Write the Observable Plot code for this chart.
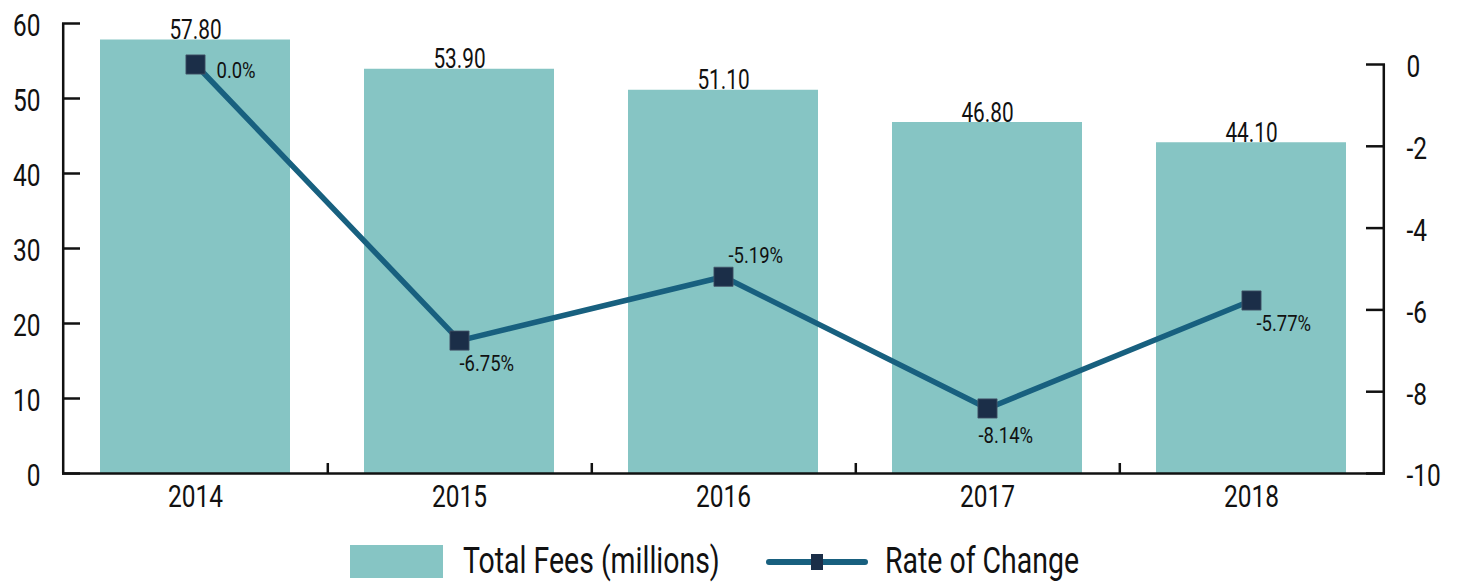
<!DOCTYPE html>
<html>
<head>
<meta charset="utf-8">
<script src="https://cdn.jsdelivr.net/npm/d3@7"></script>
<script src="https://cdn.jsdelivr.net/npm/@observablehq/plot@0.6"></script>
<style>
  html, body { margin: 0; padding: 0; background: #fff; }
  #wrap { position: relative; width: 1457px; height: 583px; font-family: Roboto, "Liberation Sans", sans-serif; color: #111; }
  #chart { position: absolute; left: 0; top: 0; }
  .leg { position: absolute; }
  .legtext { position: absolute; font-size: 36px; line-height: 36px; white-space: nowrap; transform: scaleX(0.79); transform-origin: left center; }
</style>
</head>
<body>
<div id="wrap">
  <div id="chart"></div>
  <div class="leg" style="left:350px;top:545px;width:93px;height:33px;background:#86c5c4;"></div>
  <div class="legtext" style="left:463px;top:543px;">Total Fees (millions)</div>
  <svg class="leg" style="left:764px;top:552px;" width="106" height="20">
    <line x1="5" y1="10" x2="101" y2="10" stroke="#18607f" stroke-width="6" stroke-linecap="round"></line>
    <rect x="47" y="2" width="12" height="16" fill="#1b2e48"></rect>
  </svg>
  <div class="legtext" style="left:885px;top:543px;">Rate of Change</div>
</div>
<script>
// ---- data ----
const years = ["2014", "2015", "2016", "2017", "2018"];
const fees = [57.80, 53.90, 51.10, 46.80, 44.10];
const rateValues = [0.0, -6.75, -5.19, -8.41, -5.77];
const rateLabels = ["0.0%", "-6.75%", "-5.19%", "-8.14%", "-5.77%"];
const leftTicks = [0, 10, 20, 30, 40, 50, 60];
const rightTicks = [0, -2, -4, -6, -8, -10];

// ---- layout ----
const W = 1457, H = 525, mL = 62, mR = 72, mT = 23, mB = 52;
const innerW = W - mL - mR;
const innerH = H - mT - mB;
const step = innerW / years.length;
// right axis: [-10, 0] occupies from bottom up to y=64 px (in left-scale units)
const rightTopPx = 64;
const k = ((H - mB) - rightTopPx) / 10 / (innerH / 60);
const conv = r => (r + 10) * k;

const font = 'Roboto, "Liberation Sans", sans-serif';
const barColor = "#86c5c4", lineColor = "#18607f", markColor = "#1b2e48";

const rows = years.map((y, i) => ({year: y, fee: fees[i], rate: rateValues[i], rateY: conv(rateValues[i]), label: rateLabels[i], i}));

// label placement (style)
const place = [
  {dx: 21, dy: 6},
  {dx: 0, dy: 23},
  {dx: 5, dy: -21},
  {dx: -9, dy: 27},
  {dx: 5, dy: 23}
];

const chart = Plot.plot({
  width: W, height: H,
  marginLeft: mL, marginRight: mR, marginTop: mT, marginBottom: mB,
  style: {fontFamily: font, color: "#111", background: "transparent"},
  x: {type: "band", domain: years, paddingInner: 0.28, paddingOuter: 0.14, axis: null},
  y: {domain: [0, 60], axis: null},
  marks: [
    Plot.barY(rows, {x: "year", y: "fee", fill: barColor}),
    Plot.text(rows, {x: "year", y: "fee", text: d => d.fee.toFixed(2), lineAnchor: "bottom", dy: -1, fontSize: 27, fill: "#111"}),
    // line & markers
    Plot.line(rows, {x: "year", y: "rateY", stroke: lineColor, strokeWidth: 5.5}),
    Plot.dot(rows, {x: "year", y: "rateY", symbol: "square", r: 10.8, fill: markColor, stroke: "#46566a", strokeWidth: 0.8}),
    ...rows.map((d, i) => Plot.text([d], {x: "year", y: "rateY", text: "label", textAnchor: "start", dx: place[i].dx, dy: place[i].dy, fontSize: 22, fill: "#111"})),
    // axis lines
    Plot.ruleY([0], {stroke: "#111", strokeWidth: 2.5}),
    Plot.ruleX([years[0]], {dx: -step / 2, y1: 0, y2: 60, stroke: "#111", strokeWidth: 2.5}),
    Plot.ruleX([years[years.length - 1]], {dx: step / 2, y1: conv(-10), y2: conv(0), stroke: "#111", strokeWidth: 2.5}),
    // left ticks (inward)
    Plot.ruleY(leftTicks, {insetRight: innerW - 18, stroke: "#111", strokeWidth: 2.5}),
    Plot.axisY({ticks: leftTicks, tickSize: 0, tickPadding: 22, fontSize: 31, dy: 3, label: null, tickFormat: d => String(d)}),
    // right ticks (inward)
    Plot.ruleY(rightTicks.map(conv), {insetLeft: innerW - 19, stroke: "#111", strokeWidth: 2.5}),
    Plot.axisY({anchor: "right", ticks: rightTicks.map(conv), tickSize: 0, tickPadding: 21, fontSize: 31, dy: 3, label: null, tickFormat: v => String(Math.round(v / k - 10))}),
    // x ticks between categories (inward)
    Plot.ruleX(years.slice(0, -1), {dx: step / 2, y1: 0, y2: 10 / (innerH / 60), stroke: "#111", strokeWidth: 2.5}),
    Plot.axisX({tickSize: 0, tickPadding: 11, fontSize: 31, label: null})
  ]
});
document.getElementById("chart").appendChild(chart);

// condense glyphs horizontally around each text's anchor (mimics a condensed face)
const condense = {31: 0.79, 27: 0.77, 22: 0.84};
chart.querySelectorAll("text").forEach(el => {
  const fs = Math.round(parseFloat(getComputedStyle(el).fontSize));
  const s = condense[fs] || 0.8;
  const x = parseFloat(el.getAttribute("x")) || 0;
  const t = el.getAttribute("transform") || "";
  el.setAttribute("transform", `${t} translate(${x},0) scale(${s},1) translate(${-x},0)`);
});
</script>
</body>
</html>
